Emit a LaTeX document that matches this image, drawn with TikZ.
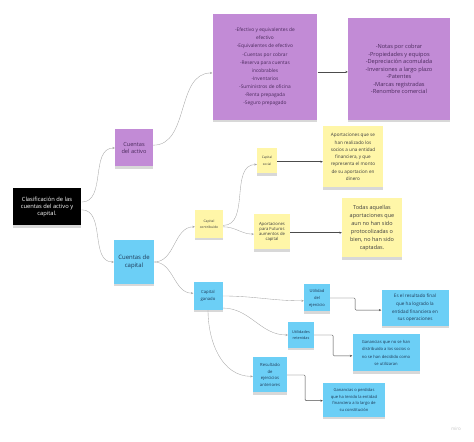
\documentclass[tikz,border=0pt]{standalone}
\usepackage{fontspec}
\setmainfont{Open Sans}
\usepackage{tikz}
\usetikzlibrary{arrows.meta,shadows}
\definecolor{notepurple}{HTML}{C28BD6}
\definecolor{noteyellow}{HTML}{FFF6A8}
\definecolor{noteblue}{HTML}{6CCFF6}
\definecolor{inkpurple}{HTML}{4A2A5C}
\definecolor{inkblue}{HTML}{1E3A58}
\definecolor{inkgray}{HTML}{3C3C3C}

\tikzset{
  note/.style={rectangle, inner sep=0pt, align=center,
    drop shadow={shadow xshift=0pt, shadow yshift=-3pt, opacity=0.3}},
  purplenote/.style={note, fill=notepurple, text=inkpurple},
  yellownote/.style={note, fill=noteyellow, text=inkgray},
  bluenote/.style={note, fill=noteblue, text=inkblue},
  link/.style={draw=gray!70, line width=0.5pt, -{Stealth[length=3.5pt,width=3pt]}},
  elbow/.style={draw=black!70, line width=0.6pt, rounded corners=1.5pt,
    -{Stealth[length=3.5pt,width=3pt]}}
}

\begin{document}
\begin{tikzpicture}[x=0.05cm,y=0.05cm]

  \fill[white] (0,0) rectangle (474,442);
  \useasboundingbox (0,0) rectangle (474,442);

  % ══ ROOT ══════════════════════════════════════════════════════
  \node[note, fill=black, text=white,
        minimum width=3.45cm, minimum height=1.85cm,
        font={\fontsize{8.2}{10.2}\selectfont}] (root) at (47,235)
    {Clasificación de las\\cuentas del activo y\\capital.};

  % ══ ACTIVO ════════════════════════════════════════════════════
  \node[purplenote, minimum width=1.9cm, minimum height=1.85cm,
        font={\fontsize{8}{10.4}\selectfont}] (activo) at (134,294)
    {Cuentas\\del activo};

  \node[purplenote, minimum width=5.25cm, minimum height=5.3cm,
        font={\fontsize{6.9}{11.6}\selectfont}] (lista1) at (265,375)
    {-Efectivo y equivalentes de\\efectivo\\-Equivalentes de efectivo\\-Cuentas por cobrar\\
     -Reserva para cuentas\\incobrables\\-Inventarios\\-Suministros de oficina\\
     -Renta prepagada\\-Seguro prepagado};

  \node[purplenote, minimum width=5.1cm, minimum height=5.1cm,
        font={\fontsize{8}{10.6}\selectfont}] (lista2) at (399,373)
    {-Notas por cobrar\\-Propiedades y equipos\\-Depreciación acomulada\\
     -Inversiones a largo plazo\\-Patentes\\-Marcas registradas\\-Renombre comercial};

  % ══ CAPITAL ═══════════════════════════════════════════════════
  \node[bluenote, minimum width=2.0cm, minimum height=2.2cm,
        font={\fontsize{8.5}{10.4}\selectfont}] (capital) at (134,180)
    {Cuentas de\\capital};

  % ══ CAPITAL CONTRIBUIDO (yellow) ══════════════════════════════
  \node[yellownote, minimum width=1.4cm, minimum height=1.4cm,
        font={\fontsize{4.8}{9}\selectfont}] (contribuido) at (209,218)
    {Capital\\contribuido};

  \node[yellownote, minimum width=1.0cm, minimum height=1.25cm,
        font={\fontsize{4.6}{9.5}\selectfont}] (social) at (267,281)
    {Capital\\social};

  \node[yellownote, minimum width=1.8cm, minimum height=1.75cm,
        font={\fontsize{6}{7.4}\selectfont}] (futuros) at (272,210)
    {Aportaciones\\para Futuros\\aumentos de\\capital};

  \node[yellownote, minimum width=3.0cm, minimum height=3.05cm,
        font={\fontsize{6.6}{10.4}\selectfont}] (aporte) at (353,285)
    {Aportaciones que se\\han realizado los\\socios a una entidad\\financiera, y que\\
     representa el monto\\de su aportacion en\\dinero};

  \node[yellownote, minimum width=3.0cm, minimum height=2.95cm,
        font={\fontsize{7.8}{11.6}\selectfont}] (todas) at (372,214)
    {Todas aquellas\\aportaciones que\\aun no han sido\\protocolizadas o\\
     bien, no han sido\\captadas.};

  % ══ CAPITAL GANADO (blue) ═════════════════════════════════════
  \node[bluenote, minimum width=1.45cm, minimum height=1.4cm,
        font={\fontsize{6}{9.5}\selectfont}] (ganado) at (208,146)
    {Capital\\ganado};

  \node[bluenote, minimum width=1.3cm, minimum height=1.35cm,
        font={\fontsize{5.8}{10}\selectfont}] (utilidad) at (317,144)
    {Utilidad\\del\\ejercicio};

  \node[bluenote, minimum width=1.3cm, minimum height=1.3cm,
        font={\fontsize{5.4}{8.2}\selectfont}] (retenidas) at (301,107)
    {Utilidades\\retenidas};

  \node[bluenote, minimum width=1.7cm, minimum height=1.75cm,
        font={\fontsize{6}{9.4}\selectfont}] (anteriores) at (270,67)
    {Resultado\\de\\ejercicios\\anteriores};

  \node[bluenote, minimum width=3.35cm, minimum height=1.8cm,
        font={\fontsize{6.6}{11}\selectfont}] (final) at (415,134)
    {Es el resultado final\\que ha logrado la\\entidad financiera en\\sus operaciones};

  \node[bluenote, minimum width=3.35cm, minimum height=1.85cm,
        font={\fontsize{5.9}{10.2}\selectfont}] (nodistrib) at (386,89)
    {Ganancias que no se han\\distribuido a los socios o\\no se han decidido como\\se utilizaran};

  \node[bluenote, minimum width=3.1cm, minimum height=1.7cm,
        font={\fontsize{5.8}{9.8}\selectfont}] (perdidas) at (354,42)
    {Ganancias o perdidas\\que ha tenido la entidad\\financiera a lo largo de\\su constitución};

  % ══ ARROWS ════════════════════════════════════════════════════
  \draw[link] ([yshift=7pt]root.east) to[out=0,in=180] (activo.west);
  \draw[link] ([yshift=-4pt]root.east) to[out=0,in=180] (capital.west);
  \draw[link] ([yshift=4pt]activo.east) to[out=0,in=180] ([yshift=-8.5pt]lista1.west);
  \draw[elbow] ([yshift=-7pt]lista1.east) -- ([yshift=-7pt]lista1.east -| lista2.west);

  \draw[link] (capital.east) to[out=0,in=180] ([yshift=-4pt]contribuido.west);
  \draw[link] (capital.east) to[out=0,in=180] ([yshift=4pt]ganado.west);
  \draw[link] ([yshift=-2pt]contribuido.east) to[out=0,in=180] ([yshift=-5pt]social.west);
  \draw[link] ([yshift=-4pt]contribuido.east) to[out=0,in=180] ([yshift=-3pt]futuros.west);
  \draw[elbow] ([yshift=-1pt]social.east) -- ([yshift=-1pt]social.east -| aporte.west);
  \draw[elbow] ([yshift=-1pt]futuros.east) -- ([yshift=-1pt]futuros.east -| todas.west);

  \draw[link] (ganado.east) to[out=0,in=180] ([yshift=-4pt]utilidad.west);
  \draw[link] ([yshift=3pt]ganado.south east) to[out=0,in=180] (retenidas.west);
  \draw[link] (ganado.south) to[out=-90,in=180] ([yshift=-2pt]anteriores.west);

  \draw[elbow] (utilidad.east) -- ++(25,0) |- ([yshift=-3pt]final.west);
  \draw[elbow] (retenidas.east) -- ++(19,0) |- ([yshift=-4pt]nodistrib.west);
  \draw[elbow] (anteriores.east) -- ++(18,0) |- ([yshift=-1pt]perdidas.west);

  % ══ LOGO ══════════════════════════════════════════════════════
  \node[text=gray!45, font={\fontsize{6.5}{7}\selectfont}] (logo) at (456,13) {miro};

\end{tikzpicture}
\end{document}
